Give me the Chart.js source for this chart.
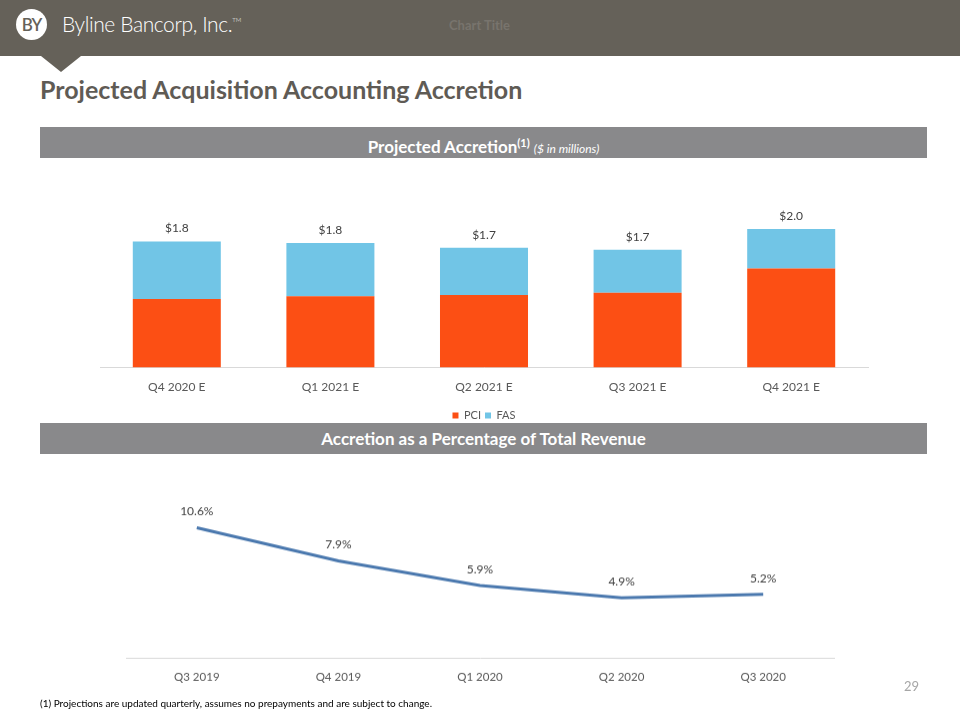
<!DOCTYPE html>
<html>
<head>
<meta charset="utf-8">
<script src="https://cdn.jsdelivr.net/npm/chart.js@4.4.1/dist/chart.umd.min.js"></script>
<style>
  html, body { margin: 0; padding: 0; background: #ffffff; }
  body { width: 960px; height: 720px; position: relative; overflow: hidden; font-family: Lato, "Open Sans", sans-serif; }
  .band { position: absolute; left: 0; top: 0; width: 960px; height: 56px; background: #656159; }
  .tri { position: absolute; left: 41px; top: 56px; width: 0; height: 0; border-left: 20px solid transparent; border-right: 20px solid transparent; border-top: 16px solid #656159; }
  .logo { position: absolute; left: 16px; top: 9px; width: 31px; height: 31px; border-radius: 50%; background: #ffffff; color: #656159; font: 600 17px Lato, sans-serif; text-align: center; line-height: 31px; letter-spacing: -1px; }
  .brand { position: absolute; left: 62px; top: 11px; color: #ffffff; font: 300 21px Lato, sans-serif; letter-spacing: -0.4px; white-space: nowrap; }
  .brand sup { font-size: 6px; vertical-align: 10px; letter-spacing: 0; }
  .ghost { position: absolute; left: 449px; top: 17px; color: #78746d; font: 700 13px Lato, sans-serif; }
  .title { position: absolute; left: 40px; top: 74px; color: #5f5b55; font: 700 25px Lato, sans-serif; white-space: nowrap; }
  .sect { position: absolute; left: 40px; width: 887px; height: 31px; background: #89898b; color: #ffffff; font: 700 17px Lato, sans-serif; text-align: center; line-height: 31px; }
  .sect sup { font-size: 11px; vertical-align: 6px; }
  .sect i { font-weight: 400; font-size: 12px; }
  .foot { position: absolute; left: 40px; top: 697px; font: 400 10px Lato, sans-serif; color: #000000; white-space: nowrap; }
  .pg { position: absolute; left: 904px; top: 678px; font: 400 13px Lato, sans-serif; color: #a6a6a6; }
  .cw { position: absolute; left: 0; width: 960px; }
</style>
</head>
<body>
<div class="band"></div>
<div class="tri"></div>
<div class="logo">BY</div>
<div class="brand">Byline Bancorp, Inc.<sup>TM</sup></div>
<div class="ghost">Chart Title</div>
<div class="title">Projected Acquisition Accounting Accretion</div>
<div class="sect" style="top:127px;">Projected Accretion<sup>(1)</sup> <i>($ in millions)</i></div>
<div class="sect" style="top:423px;">Accretion as a Percentage of Total Revenue</div>
<div class="cw" style="top:180px;height:255px;"><canvas id="bars"></canvas></div>
<div class="cw" style="top:470px;height:242.5px;"><canvas id="line"></canvas></div>
<div class="pg">29</div>
<div class="foot">(1) Projections are updated quarterly, assumes no prepayments and are subject to change.</div>
<script>
// ---- data ----
const barCategories = ["Q4 2020 E", "Q1 2021 E", "Q2 2021 E", "Q3 2021 E", "Q4 2021 E"];
const pciValues = [0.99, 1.03, 1.05, 1.08, 1.43];
const fasValues = [0.83, 0.77, 0.68, 0.62, 0.57];
const lineCategories = ["Q3 2019", "Q4 2019", "Q1 2020", "Q2 2020", "Q3 2020"];
const accretionPct = [10.6, 7.9, 5.9, 4.9, 5.2];

const tickColor = "#595959";
const labelColor = "#404040";
const FONT = "Lato, 'Open Sans', sans-serif";

const totalsLabel = {
  id: "totalsLabel",
  afterDatasetsDraw(chart) {
    const ctx = chart.ctx;
    const top = chart.getDatasetMeta(chart.data.datasets.length - 1);
    ctx.save();
    ctx.font = "12px " + FONT;
    ctx.fillStyle = labelColor;
    ctx.textAlign = "center";
    ctx.textBaseline = "middle";
    top.data.forEach((el, i) => {
      const total = chart.data.datasets.reduce((s, d) => s + d.data[i], 0);
      ctx.fillText("$" + total.toFixed(1), el.x, el.y - 13);
    });
    ctx.restore();
  }
};

const pointLabel = {
  id: "pointLabel",
  afterDatasetsDraw(chart) {
    const ctx = chart.ctx;
    const meta = chart.getDatasetMeta(0);
    ctx.save();
    ctx.font = "12px " + FONT;
    ctx.fillStyle = labelColor;
    ctx.textAlign = "center";
    ctx.textBaseline = "middle";
    meta.data.forEach((el, i) => {
      ctx.fillText(chart.data.datasets[0].data[i].toFixed(1) + "%", el.x, el.y - 16);
    });
    ctx.restore();
  }
};

new Chart(document.getElementById("bars"), {
  type: "bar",
  data: {
    labels: barCategories,
    datasets: [
      { label: "PCI", data: pciValues, backgroundColor: "#fc4f14", borderWidth: 0 },
      { label: "FAS", data: fasValues, backgroundColor: "#71c5e6", borderWidth: 0 }
    ]
  },
  options: {
    responsive: true,
    maintainAspectRatio: false,
    animation: false,
    barPercentage: 1,
    categoryPercentage: 0.573,
    layout: { padding: { left: 100, right: 92, top: 14.45, bottom: 4 } },
    plugins: {
      tooltip: { enabled: false },
      legend: {
        position: "bottom",
        labels: { boxWidth: 6, boxHeight: 6, padding: 4, color: tickColor, font: { family: FONT, size: 11 } }
      }
    },
    scales: {
      x: {
        stacked: true,
        grid: { display: false, drawTicks: false },
        border: { display: true, color: "#d9d9d9", width: 1 },
        ticks: { color: tickColor, padding: 12, font: { family: FONT, size: 12 } }
      },
      y: { stacked: true, display: false, min: 0, max: 2.5 }
    }
  },
  plugins: [totalsLabel]
});

new Chart(document.getElementById("line"), {
  type: "line",
  data: {
    labels: lineCategories,
    datasets: [
      { label: "Accretion %", data: accretionPct, borderColor: "#4a78ae", borderWidth: 3, pointRadius: 0, tension: 0, fill: false }
    ]
  },
  options: {
    responsive: true,
    maintainAspectRatio: false,
    animation: false,
    layout: { padding: { left: 126, right: 126, top: 40.3, bottom: 17.3 } },
    plugins: { legend: { display: false }, tooltip: { enabled: false } },
    scales: {
      x: {
        offset: true,
        grid: { display: false, drawTicks: false },
        border: { display: true, color: "#d9d9d9", width: 1 },
        ticks: { color: tickColor, padding: 12, font: { family: FONT, size: 11.5 } }
      },
      y: { display: false, min: 0, max: 12 }
    }
  },
  plugins: [pointLabel]
});
</script>
</body>
</html>
